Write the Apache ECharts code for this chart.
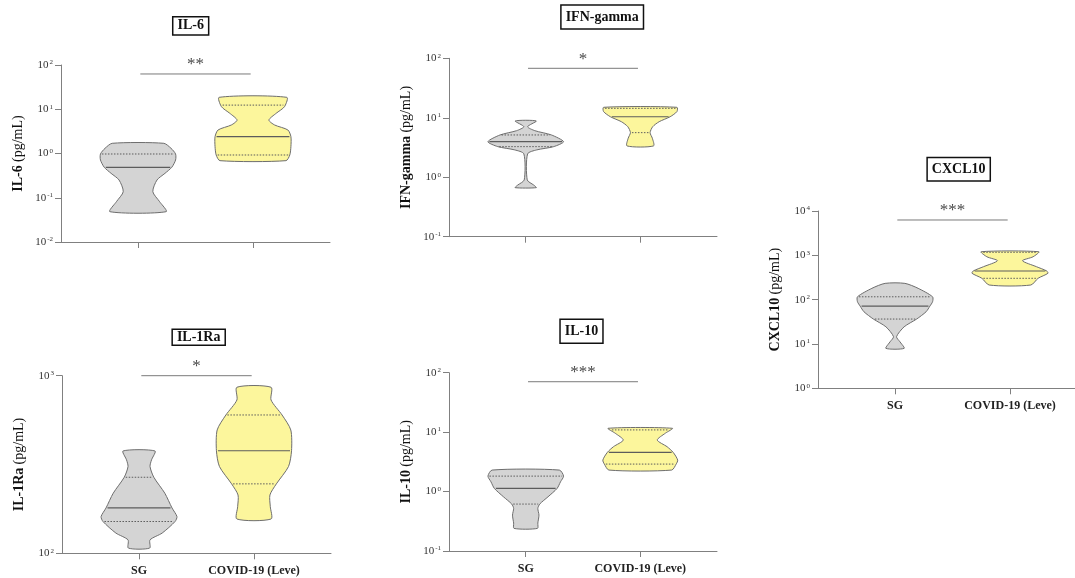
<!DOCTYPE html>
<html>
<head>
<meta charset="utf-8">
<style>
  html, body { margin: 0; padding: 0; background: #fff; }
  #chart { width: 1075px; height: 578px; }
</style>
<script src="https://cdn.jsdelivr.net/npm/echarts@6/dist/echarts.min.js"></script>
</head>
<body>
<div id="chart"></div>
<script>
// Groups on the x axis
const groups = ['SG', 'COVID-19 (Leve)'];

// Violin outlines: [concentration pg/mL, relative half-width], bottom to top
const il6SG      = [[0.0484, 0.74], [0.0814, 0.57], [0.137, 0.39], [0.252, 0.50], [0.356, 0.71], [0.488, 0.89], [0.713, 0.99], [0.975, 0.99], [1.31, 0.87], [1.70, 0.68]];
const il6Covid   = [[0.689, 0.87], [0.925, 0.97], [1.43, 1.0], [2.40, 1.0], [3.40, 0.92], [4.41, 0.57], [5.71, 0.42], [8.09, 0.61], [11.4, 0.83], [18.6, 0.89]];
const il1raSG    = [[107, 0.28], [119, 0.29], [130, 0.61], [151, 0.95], [161, 1.0], [180, 0.87], [218, 0.68], [268, 0.39], [308, 0.29], [336, 0.33], [377, 0.42]];
const il1raCovid = [[156, 0.45], [183, 0.43], [213, 0.42], [246, 0.59], [308, 0.91], [378, 0.99], [495, 0.97], [601, 0.74], [730, 0.45], [861, 0.45]];
const ifnSG      = [[0.668, 0.28], [0.74, 0.21], [0.90, 0.04], [2.47, 0.05], [2.88, 0.29], [3.27, 0.74], [3.96, 1.0], [5.14, 0.68], [6.07, 0.24], [7.08, 0.05], [8.83, 0.28]];
const ifnCovid   = [[3.36, 0.35], [4.52, 0.32], [5.62, 0.26], [7.08, 0.33], [8.59, 0.50], [10.4, 0.79], [12.7, 0.97], [15.0, 0.97]];
const il10SG     = [[0.240, 0.31], [0.295, 0.32], [0.402, 0.35], [0.521, 0.32], [0.616, 0.37], [0.817, 0.59], [1.13, 0.83], [1.46, 0.92], [1.82, 1.0], [2.30, 0.89]];
const il10Covid  = [[2.30, 0.83], [2.90, 0.95], [3.39, 0.99], [4.57, 0.87], [5.68, 0.71], [7.36, 0.45], [9.55, 0.66], [11.6, 0.85]];
const cxclSG     = [[7.96, 0.24], [11.2, 0.13], [14.6, 0.04], [24.4, 0.24], [36.5, 0.57], [53.4, 0.82], [71.7, 0.92], [89.7, 0.99], [116, 0.99], [180, 0.61], [233, 0.26]];
const cxclCovid  = [[214, 0.55], [303, 0.74], [393, 1.0], [443, 0.97], [553, 0.70], [755, 0.33], [929, 0.61], [1205, 0.76]];

// Medians and quartiles per group [SG, COVID-19]
const il6Median = [0.488, 2.40];  const il6Q1 = [null, 0.925];  const il6Q3 = [0.975, 12.4];
const il1raMedian = [180, 378];   const il1raQ1 = [151, 246];    const il1raQ3 = [268, 601];
const ifnMedian = [3.96, 10.4];   const ifnQ1 = [3.27, 5.62];    const ifnQ3 = [5.14, 14.4];
const il10Median = [1.13, 4.57];  const il10Q1 = [0.616, 2.90];  const il10Q3 = [1.82, 10.9];
const cxclMedian = [71.7, 443];   const cxclQ1 = [36.5, 303];    const cxclQ3 = [116, 1170];

// Significance brackets: level (pg/mL) and stars
const sigLevels = [62.7, 1000, 67.9, 70.5, 6270];
const sigStars  = ['**', '*', '*', '***', '***'];
const sigSpan   = [1.02, 1.98];

// Axis ranges (pg/mL)
const yRanges = [[0.01, 100], [100, 1000], [0.1, 100], [0.1, 100], [1, 10000]];

const SERIF = "'Liberation Serif', 'DejaVu Serif', serif";
const HALF = 0.33;          // widest half-violin, in group units
const GREY = '#d4d4d4';
const YELLOW = '#fcf69c';
const EDGE = '#6e6e6e';

const panels = [
  { name: 'IL-6',      profiles: [il6SG, il6Covid],     median: il6Median,   q1: il6Q1,   q3: il6Q3,
    grid: { left: 61,  top: 65,    width: 269, height: 177 },   labels: false, title: [190.7, 25.8, 1.4] },
  { name: 'IL-1Ra',    profiles: [il1raSG, il1raCovid], median: il1raMedian, q1: il1raQ1, q3: il1raQ3,
    grid: { left: 62,  top: 375.7, width: 269, height: 177.6 }, labels: true,  title: [198.7, 337.2, 0.2] },
  { name: 'IFN-gamma', profiles: [ifnSG, ifnCovid],     median: ifnMedian,   q1: ifnQ1,   q3: ifnQ3,
    grid: { left: 449, top: 58.3,  width: 268, height: 178.4 }, labels: false, title: [602.2, 17, 4.2] },
  { name: 'IL-10',     profiles: [il10SG, il10Covid],   median: il10Median,  q1: il10Q1,  q3: il10Q3,
    grid: { left: 449, top: 372.7, width: 268, height: 178.3 }, labels: true,  title: [581.5, 331.3, 4.2] },
  { name: 'CXCL10',    profiles: [cxclSG, cxclCovid],   median: cxclMedian,  q1: cxclQ1,  q3: cxclQ3,
    grid: { left: 818, top: 211,   width: 269, height: 177.3 }, labels: true,  title: [958.7, 169.2, 4.0] }
];

// half-width of a violin at a given value, interpolated in log space
function widthAt(profile, v) {
  const lv = Math.log10(v);
  for (let i = 0; i < profile.length - 1; i++) {
    const a = Math.log10(profile[i][0]), b = Math.log10(profile[i + 1][0]);
    if (lv >= a && lv <= b) {
      const t = b === a ? 0 : (lv - a) / (b - a);
      return profile[i][1] + t * (profile[i + 1][1] - profile[i][1]);
    }
  }
  return lv < Math.log10(profile[0][0]) ? profile[0][1] : profile[profile.length - 1][1];
}

function violinRenderer(panel) {
  return function (params, api) {
    const k = params.dataIndex;
    const x = k + 1;
    const prof = panel.profiles[k];
    const left = [], right = [];
    prof.forEach(function (p) {
      left.push(api.coord([x - p[1] * HALF, p[0]]));
      right.push(api.coord([x + p[1] * HALF, p[0]]));
    });
    const pts = left.concat(right.reverse());
    const children = [{
      type: 'polygon',
      shape: { points: pts, smooth: 0.25 },
      style: { fill: k === 0 ? GREY : YELLOW, stroke: EDGE, lineWidth: 1 }
    }];
    function hline(v, dashed) {
      if (v == null) return;
      const w = widthAt(prof, v) * HALF;
      const a = api.coord([x - w, v]), b = api.coord([x + w, v]);
      children.push({
        type: 'line',
        shape: { x1: a[0] + 1.5, y1: a[1], x2: b[0] - 1.5, y2: b[1] },
        style: { stroke: '#5c5c5c', lineWidth: dashed ? 1 : 1.2, lineDash: dashed ? [1.5, 1.5] : null }
      });
    }
    hline(panel.median[k], false);
    hline(panel.q1[k], true);
    hline(panel.q3[k], true);
    return { type: 'group', children: children };
  };
}

function sigRenderer(i) {
  return function (params, api) {
    const y = sigLevels[i];
    const a = api.coord([sigSpan[0], y]), b = api.coord([sigSpan[1], y]);
    const m = api.coord([(sigSpan[0] + sigSpan[1]) / 2, y]);
    return {
      type: 'group',
      children: [
        { type: 'line', shape: { x1: a[0], y1: a[1], x2: b[0], y2: b[1] },
          style: { stroke: '#7a7a7a', lineWidth: 1 } },
        { type: 'text', x: m[0], y: m[1] - 9,
          style: { text: sigStars[i], align: 'center', verticalAlign: 'middle',
                   font: '17px ' + SERIF, fill: '#4a4a4a' } }
      ]
    };
  };
}

const grids = [], xAxes = [], yAxes = [], series = [], graphics = [];
panels.forEach(function (p, i) {
  grids.push(Object.assign({ containLabel: false, outerBoundsMode: 'none' }, p.grid));
  xAxes.push({
    type: 'value', gridIndex: i, min: 0.33, max: 2.67,
    axisLine: { onZero: false, lineStyle: { color: '#808080', width: 1 } },
    axisTick: { show: true, customValues: [1, 2], length: 6, lineStyle: { color: '#808080' } },
    axisLabel: {
      show: p.labels, customValues: [1, 2], margin: 12,
      formatter: function (v) { return groups[Math.round(v) - 1] || ''; },
      fontFamily: SERIF, fontWeight: 'bold', fontSize: 12, color: '#222'
    },
    splitLine: { show: false }
  });
  yAxes.push({
    type: 'log', logBase: 10, gridIndex: i, min: yRanges[i][0], max: yRanges[i][1],
    name: '{b|' + p.name + '} {r|(pg/mL)}',
    nameLocation: 'middle', nameRotate: 90, nameGap: 36,
    nameTextStyle: {
      color: '#111',
      rich: {
        b: { fontFamily: SERIF, fontWeight: 'bold', fontSize: 14, color: '#111' },
        r: { fontFamily: SERIF, fontSize: 14, color: '#111' }
      }
    },
    axisLine: { show: true, onZero: false, lineStyle: { color: '#808080', width: 1 } },
    axisTick: { show: true, length: 6, lineStyle: { color: '#808080' } },
    minorTick: { show: false },
    splitLine: { show: false },
    axisLabel: {
      margin: 8, color: '#333',
      formatter: function (v) { return '10{s|' + Math.round(Math.log10(v)) + '}'; },
      fontFamily: SERIF, fontSize: 11,
      rich: { s: { fontFamily: SERIF, fontSize: 7, color: '#333', verticalAlign: 'top', padding: [0, 0, 5, 1] } }
    }
  });
  series.push({
    type: 'custom', xAxisIndex: i, yAxisIndex: i, silent: true,
    renderItem: violinRenderer(p),
    data: [[1, p.median[0]], [2, p.median[1]]]
  });
  series.push({
    type: 'custom', xAxisIndex: i, yAxisIndex: i, silent: true,
    renderItem: sigRenderer(i),
    data: [[1.5, sigLevels[i]]]
  });
  graphics.push({
    type: 'text', x: p.title[0], y: p.title[1],
    style: {
      text: p.name, align: 'center', verticalAlign: 'middle',
      font: 'bold 14px ' + SERIF, fill: '#111', lineHeight: 14,
      backgroundColor: '#fff', borderColor: '#111', borderWidth: 1.5,
      padding: [p.title[2], 4, p.title[2], 4]
    }
  });
});

const chart = echarts.init(document.getElementById('chart'), null, { renderer: 'canvas' });
chart.setOption({
  backgroundColor: '#fff',
  animation: false,
  grid: grids,
  xAxis: xAxes,
  yAxis: yAxes,
  series: series,
  graphic: graphics
});
</script>
</body>
</html>
